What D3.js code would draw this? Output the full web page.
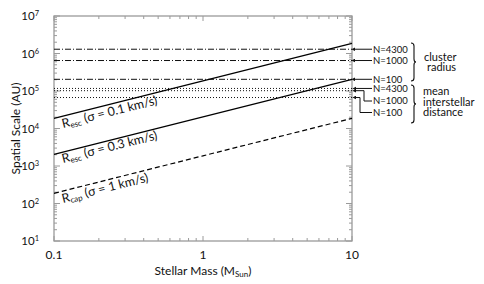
<!DOCTYPE html>
<html>
<head>
<meta charset="utf-8">
<script src="https://cdn.jsdelivr.net/npm/d3@7"></script>
<style>
  body { margin: 0; background: #fff; }
  text { font-family: Lato, "DejaVu Sans", sans-serif; fill: #111; }
</style>
</head>
<body>
<svg id="chart" width="484" height="284"></svg>
<script>
// stellar mass in M_Sun
var mass = [0.1, 1, 10];
var rEsc01 = [1.87e4, 1.87e5, 1.87e6];
var rEsc03 = [2.05e3, 2.05e4, 2.05e5];
var rCap1 = [1.87e2, 1.87e3, 1.87e4];

var nLabels = ["N=4300", "N=1000", "N=100"];
var clusterRadius = [1.3e6, 6.5e5, 2.05e5];
var interstellarDist = [1.17e5, 1.02e5, 6.7e4];

var xTickValues = [0.1, 1, 10];
var xTickLabels = ["0.1", "1", "10"];
var yExponents = [1, 2, 3, 4, 5, 6, 7];

var margin = { left: 54, right: 132, top: 16, bottom: 43 };
var W = 484, H = 284;

var svg = d3.select("#chart");

var x = d3.scaleLog().domain([0.1, 10]).range([margin.left, W - margin.right]);
var y = d3.scaleLog().domain([10, 1e7]).range([H - margin.bottom, margin.top]);

var x0 = x.range()[0], x1 = x.range()[1];
var yb = y.range()[0], yt = y.range()[1];

// minor + major ticks, all pointing inward
var xMinor = [], yMinor = [];
[0.1, 1].forEach(function (d) {
    for (var k = 2; k <= 9; k++) xMinor.push(d * k);
});
for (var e = 1; e < 7; e++) {
    for (var k = 2; k <= 9; k++) yMinor.push(k * Math.pow(10, e));
}
var axisColor = "#9a9a9a";
var ticks = svg.append("g").attr("stroke", axisColor).attr("stroke-width", 1);

function xTick(v, len) {
    ticks.append("line").attr("x1", x(v)).attr("x2", x(v)).attr("y1", yb).attr("y2", yb - len);
    ticks.append("line").attr("x1", x(v)).attr("x2", x(v)).attr("y1", yt).attr("y2", yt + len);
}
function yTick(v, len) {
    ticks.append("line").attr("y1", y(v)).attr("y2", y(v)).attr("x1", x0).attr("x2", x0 + len);
    ticks.append("line").attr("y1", y(v)).attr("y2", y(v)).attr("x1", x1).attr("x2", x1 - len);
}
xMinor.forEach(function (v) { xTick(v, 3); });
xTickValues.forEach(function (v) { xTick(v, 5); });
yMinor.forEach(function (v) { yTick(v, 3); });
yExponents.forEach(function (e) { yTick(Math.pow(10, e), 6); });

svg.append("rect")
    .attr("x", x0).attr("y", yt)
    .attr("width", x1 - x0).attr("height", yb - yt)
    .attr("fill", "none").attr("stroke", axisColor).attr("stroke-width", 1.3);

// tick labels
svg.selectAll(".xlab")
    .data(xTickValues)
    .enter().append("text")
    .attr("x", d => x(d))
    .attr("y", yb + 18)
    .attr("text-anchor", "middle")
    .style("font-size", "12px")
    .text((d, i) => xTickLabels[i]);

var ylab = svg.selectAll(".ylab")
    .data(yExponents)
    .enter().append("text")
    .attr("x", x0 - 15)
    .attr("y", d => y(Math.pow(10, d)) + 4)
    .attr("text-anchor", "end")
    .style("font-size", "11.5px");
ylab.append("tspan").text("10");
ylab.append("tspan").attr("dy", -4).style("font-size", "7.5px").text(d => d);

// axis titles
var xt = svg.append("text")
    .attr("x", (x0 + x1) / 2)
    .attr("y", 275)
    .attr("text-anchor", "middle")
    .style("font-size", "12px");
xt.append("tspan").text("Stellar Mass (M");
xt.append("tspan").attr("dy", 2).style("font-size", "8px").text("Sun");
xt.append("tspan").attr("dy", -2).text(")");

svg.append("text")
    .attr("transform", "translate(20," + ((yt + yb) / 2) + ") rotate(-90)")
    .attr("text-anchor", "middle")
    .style("font-size", "12px")
    .text("Spatial Scale (AU)");

// horizontal reference lines
svg.append("g").selectAll("line")
    .data(clusterRadius)
    .enter().append("line")
    .attr("x1", x0).attr("x2", x1)
    .attr("y1", d => y(d)).attr("y2", d => y(d))
    .attr("stroke", "#111").attr("stroke-width", 1)
    .attr("stroke-dasharray", "6,2,1,2");

svg.append("g").selectAll("line")
    .data(interstellarDist)
    .enter().append("line")
    .attr("x1", x0).attr("x2", x1)
    .attr("y1", d => y(d)).attr("y2", d => y(d))
    .attr("stroke", "#111").attr("stroke-width", 1)
    .attr("stroke-dasharray", "1,2");

// radius curves
var line = d3.line().x(d => x(d[0])).y(d => y(d[1]));
var curves = [
    { vals: rEsc01, dash: null, sub: "esc", rest: " (σ = 0.1 km/s)", off: 12 },
    { vals: rEsc03, dash: null, sub: "esc", rest: " (σ = 0.3 km/s)", off: 11 },
    { vals: rCap1, dash: "5,3", sub: "cap", rest: " (σ = 1 km/s)", off: 12 }
];
curves.forEach(function (c) {
    var pts = mass.map((m, i) => [m, c.vals[i]]);
    svg.append("path")
        .attr("d", line(pts))
        .attr("fill", "none")
        .attr("stroke", "#000")
        .attr("stroke-width", 1.2)
        .attr("stroke-dasharray", c.dash);

    var ang = Math.atan2(y(c.vals[2]) - y(c.vals[0]), x(10) - x(0.1)) * 180 / Math.PI;
    var lx = x(0.115);
    var ly = y(c.vals[0] * 1.15) + c.off;
    var t = svg.append("text")
        .attr("transform", "translate(" + lx + "," + ly + ") rotate(" + ang + ")")
        .style("font-size", "12.5px");
    t.append("tspan").text("R");
    t.append("tspan").attr("dy", 2).style("font-size", "8px").text(c.sub);
    t.append("tspan").attr("dy", -2).text(c.rest);
});

// right-hand annotations
svg.append("defs").append("marker")
    .attr("id", "head")
    .attr("viewBox", "0 0 10 10")
    .attr("refX", 1).attr("refY", 5)
    .attr("markerWidth", 4).attr("markerHeight", 4)
    .attr("orient", "auto-start-reverse")
    .append("path").attr("d", "M0,0L10,5L0,10Z").attr("fill", "#111");

var ann = svg.append("g").attr("stroke", "#111").attr("fill", "none").attr("stroke-width", 1);
var labX = x1 + 20;

clusterRadius.forEach(function (d, i) {
    ann.append("path")
        .attr("d", "M" + labX + "," + y(d) + "H" + (x1 + 3))
        .attr("marker-end", "url(#head)");
    svg.append("text").attr("x", labX + 1).attr("y", y(d) + 3.3)
        .style("font-size", "9.5px").text(nLabels[i]);
});

var elbowX = [null, x1 + 12, x1 + 8];
var labY = [y(interstellarDist[0]), 101, 112.5];
interstellarDist.forEach(function (d, i) {
    var p;
    if (i === 0) p = "M" + labX + "," + y(d) + "H" + (x1 + 4);
    else p = "M" + labX + "," + labY[i] + "H" + elbowX[i] + "V" + y(d) + "H" + (x1 + 4);
    ann.append("path").attr("d", p).attr("marker-end", "url(#head)");
    svg.append("text").attr("x", labX + 1).attr("y", labY[i] + 3.3)
        .style("font-size", "9.5px").text(nLabels[i]);
});

function brace(bx, y1, y2, w) {
    var m = (y1 + y2) / 2, r = 3;
    return "M" + bx + "," + y1 +
        "Q" + (bx + r) + "," + y1 + " " + (bx + r) + "," + (y1 + r) +
        "V" + (m - r) +
        "Q" + (bx + r) + "," + m + " " + (bx + w) + "," + m +
        "Q" + (bx + r) + "," + m + " " + (bx + r) + "," + (m + r) +
        "V" + (y2 - r) +
        "Q" + (bx + r) + "," + y2 + " " + bx + "," + y2;
}
ann.append("path").attr("d", brace(411, 43, 81, 5)).attr("stroke-width", 1.1);
ann.append("path").attr("d", brace(411, 85, 123, 5)).attr("stroke-width", 1.1);

var groupText = [
    { t: "cluster", x: 424, y: 61 },
    { t: "radius", x: 427, y: 71 },
    { t: "mean", x: 423, y: 95 },
    { t: "interstellar", x: 423, y: 105.5 },
    { t: "distance", x: 423, y: 116 }
];
svg.selectAll(".gt").data(groupText).enter().append("text")
    .attr("x", d => d.x).attr("y", d => d.y)
    .style("font-size", "11px")
    .text(d => d.t);
</script>
</body>
</html>
